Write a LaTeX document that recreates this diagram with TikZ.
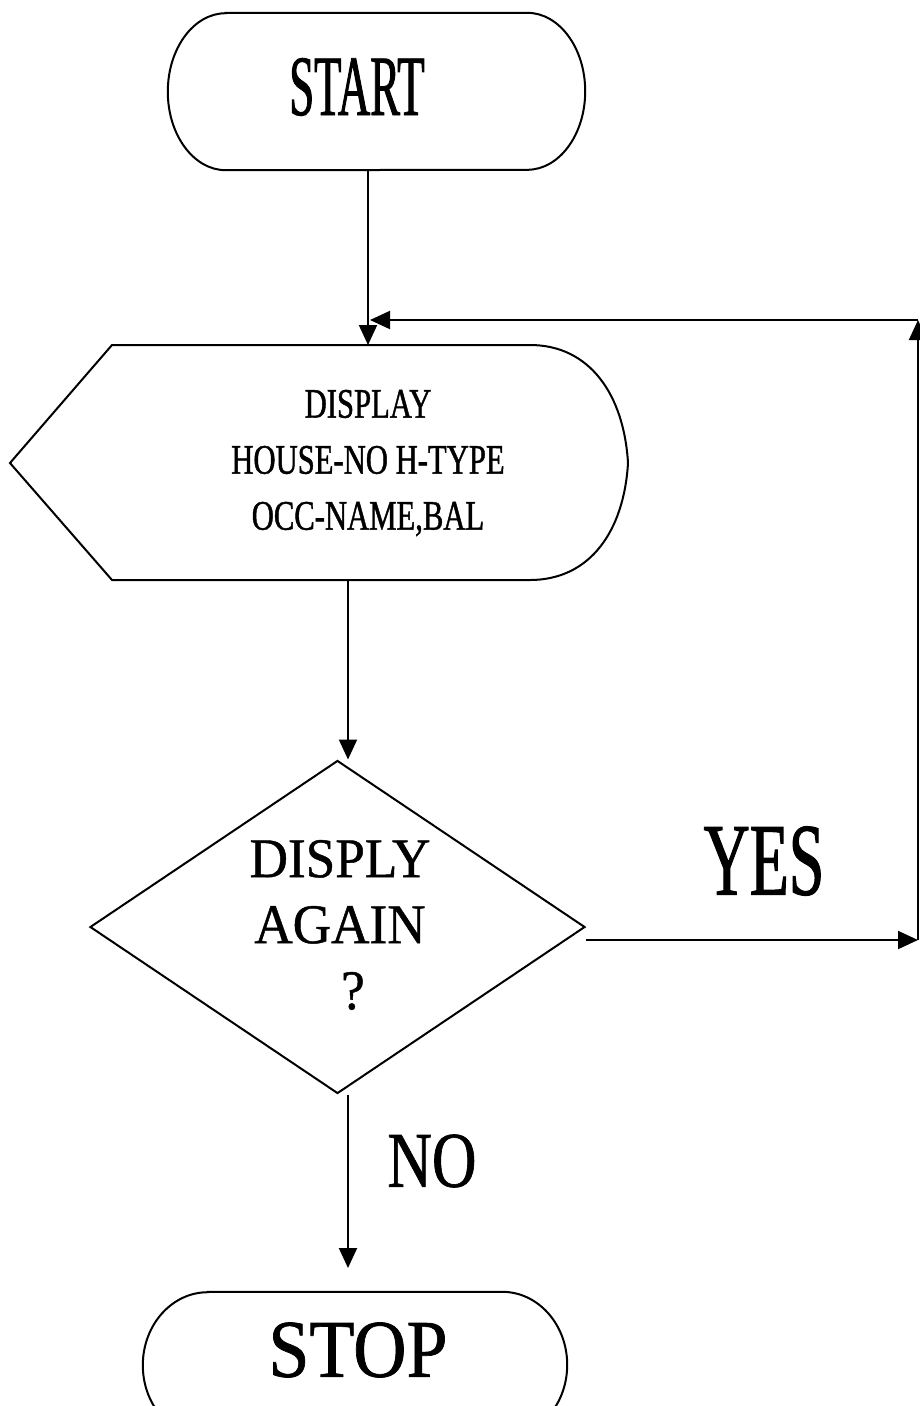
\documentclass[tikz,border=0pt]{standalone}
\usepackage{fontspec}
\setmainfont{Liberation Serif}
% Narrowed, slightly heavier serif faces for the different labels
\newfontfamily\fStart[FakeStretch=0.52,FakeBold=1]{Liberation Serif}
\newfontfamily\fDisp[FakeStretch=0.73,FakeBold=1]{Liberation Serif}
\newfontfamily\fDia[FakeStretch=0.95,FakeBold=0.8]{Liberation Serif}
\newfontfamily\fYes[FakeStretch=0.62,FakeBold=1]{Liberation Serif}
\newfontfamily\fNo[FakeStretch=0.78,FakeBold=0.8]{Liberation Serif}
\newfontfamily\fStop[FakeStretch=0.9,FakeBold=0.8]{Liberation Serif}
\usetikzlibrary{arrows.meta,shapes.geometric}

\tikzset{
  outline/.style={draw=black, line width=2pt, line join=miter},
  flow/.style={draw=black, line width=2pt, -{Triangle[length=20pt,width=18pt]}},
  termframe/.style 2 args={rectangle, inner sep=0pt, minimum width=#1, minimum height=#2},
  lbl/.style={inner sep=0pt, text=black},
}

\begin{document}
\begin{tikzpicture}[x=1pt,y=1pt]
\useasboundingbox (0,0) rectangle (920,-1406);
\fill[white] (0,0) rectangle (920,-1406);
\clip (0,0) rectangle (920,-1406);

% ---- START terminal ----
\node[termframe={417pt}{157pt}] (start) at (376.5,-91.5) {};
\draw[outline] ([xshift=58pt]start.north west) -- ([xshift=-58pt]start.north east)
  arc[start angle=90,end angle=-90,x radius=58pt,y radius=78.5pt]
  -- ([xshift=58pt]start.south west)
  arc[start angle=270,end angle=90,x radius=58pt,y radius=78.5pt] -- cycle;
\node[lbl, font=\fStart\fontsize{86pt}{86pt}\selectfont] (starttext) at (357,-87) {START};

% ---- display symbol ----
\coordinate (dl)  at (10,-463);
\coordinate (dtl) at (112,-345);
\coordinate (dtr) at (530,-345);
\coordinate (dr)  at (628,-463);
\coordinate (dbr) at (530,-580);
\coordinate (dbl) at (112,-580);
\draw[outline] (dl) -- (dtl) -- (dtr)
  .. controls (590,-345) and (624,-395) .. (dr)
  .. controls (624,-531) and (590,-580) .. (dbr) -- (dbl) -- cycle;
\node[lbl, align=center, font=\fDisp\fontsize{42pt}{56pt}\selectfont] (disp) at (368,-463)
  {DISPLAY\\HOUSE-NO H-TYPE\\OCC-NAME,BAL};
\coordinate (disptop) at (368,-345);
\coordinate (dispbot) at (348,-580);

% ---- decision ----
\node[draw, shape=diamond, line width=2pt, minimum width=495pt, minimum height=333pt, inner sep=0pt] (dia) at (337.5,-927) {};
\node[lbl, align=center, font=\fDia\fontsize{56pt}{66pt}\selectfont] (diatext) at (340,-925)
  {DISPLY\\AGAIN\\\hspace*{26pt}?};

% ---- branch labels ----
\node[lbl, font=\fYes\fontsize{103pt}{103pt}\selectfont] (yes) at (764,-861) {YES};
\node[lbl, font=\fNo\fontsize{79pt}{79pt}\selectfont] (no) at (432,-1161) {NO};

% ---- STOP terminal ----
\node[termframe={424pt}{146pt}] (stop) at (355,-1365) {};
\draw[outline] ([xshift=65pt]stop.north west) -- ([xshift=-65pt]stop.north east)
  arc[start angle=90,end angle=-90,x radius=65pt,y radius=73pt]
  -- ([xshift=65pt]stop.south west)
  arc[start angle=270,end angle=90,x radius=65pt,y radius=73pt] -- cycle;
\node[lbl, font=\fStop\fontsize{82pt}{82pt}\selectfont] (stoptext) at (358,-1350) {STOP};

% ---- connectors ----
\coordinate (loopin)   at (370,-320);
\coordinate (loopturn) at (918,-320);
\coordinate (yesend)   at (918,-940);
\coordinate (stopin)   at (348,-1268);

\draw[flow] (start.south -| disptop) -- (disptop);
\draw[flow] (dispbot) -- (dispbot |- dia.north);
\draw[flow] (dispbot |- dia.south) -- (stopin);
\draw[flow] (dia.east |- yesend) -- (yesend);
\draw[flow] (yesend) -- (loopturn);
\draw[flow] (loopturn) -- (loopin);
\end{tikzpicture}
\end{document}
